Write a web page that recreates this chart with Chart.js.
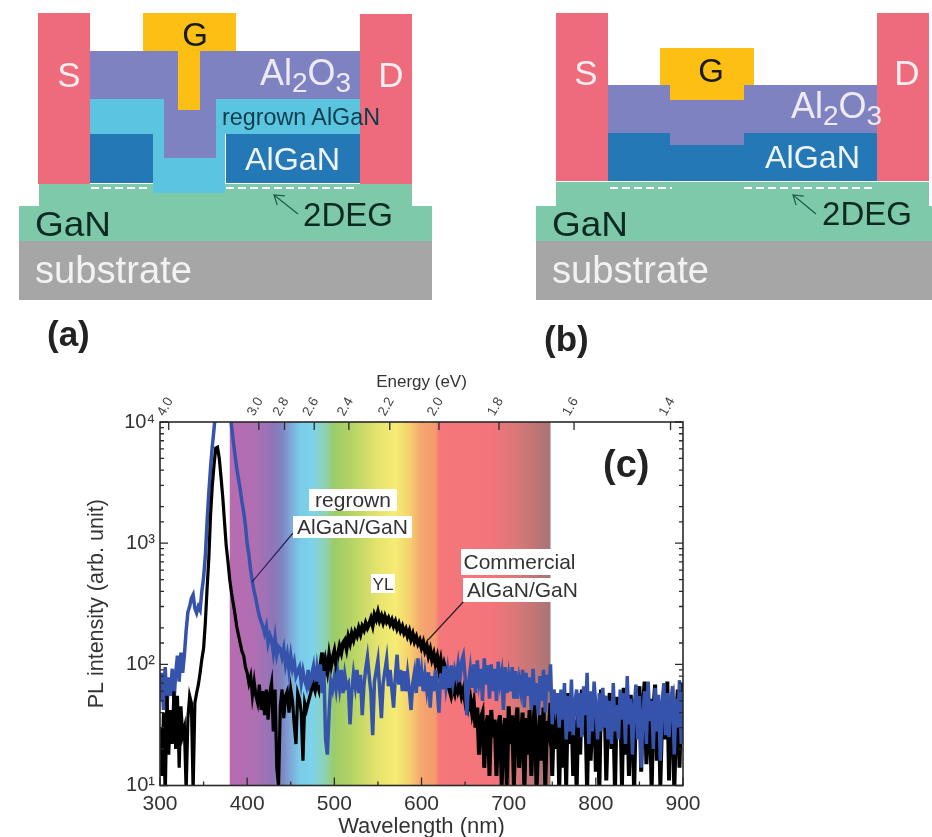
<!DOCTYPE html>
<html>
<head>
<meta charset="utf-8">
<title>PL spectra</title>
<script src="https://cdn.jsdelivr.net/npm/chart.js@4/dist/chart.umd.min.js"></script>
<style>
    html, body { margin: 0; padding: 0; background: #fff; }
    #page { position: relative; width: 932px; height: 837px; overflow: hidden; filter: blur(0.7px); }
    #chart { position: absolute; left: 0; top: 0; }
    #overlay { position: absolute; left: 0; top: 0; font-family: "Liberation Sans", Arial, sans-serif; }
</style>
</head>
<body>
<div id="page">
<canvas id="chart" width="932" height="837"></canvas>
<svg id="overlay" width="932" height="837" viewBox="0 0 932 837">
    <defs>
        <marker id="arrowHead" markerUnits="userSpaceOnUse" markerWidth="14" markerHeight="14" refX="10" refY="6" orient="auto">
            <path d="M1 0 L10 6 L1 12" fill="none" stroke="#1d5a48" stroke-width="1.2"/>
        </marker>
    </defs>

    <!-- (a) 再生长结构 -->
    <rect x="19" y="241" width="413" height="59" fill="#a6a6a6"/>
    <rect x="19" y="206" width="413" height="35" fill="#7fc9ab"/>
    <rect x="39" y="184" width="373" height="22" fill="#7fc9ab"/>
    <rect x="90" y="99" width="271" height="35" fill="#5bc5df"/>
    <rect x="153" y="134" width="72" height="59" fill="#5bc5df"/>
    <rect x="90" y="134" width="63" height="49" fill="#2478b6"/>
    <rect x="226" y="134" width="135" height="49" fill="#2478b6"/>
    <rect x="90" y="51" width="271" height="48" fill="#7f82c0"/>
    <rect x="164" y="99" width="52" height="59" fill="#7f82c0"/>
    <rect x="143" y="13" width="93" height="38" fill="#fdbf14"/>
    <rect x="178" y="51" width="22" height="59" fill="#fdbf14"/>
    <rect x="38" y="13" width="52" height="171" fill="#ee6b7b"/>
    <rect x="360" y="14" width="52" height="170" fill="#ee6b7b"/>
    <line x1="226" y1="183.5" x2="360" y2="183.5" stroke="#fff" stroke-width="1"/>
    <line x1="91" y1="188" x2="150" y2="188" stroke="#fff" stroke-width="2.2" stroke-dasharray="8 4"/>
    <line x1="226" y1="188" x2="358" y2="188" stroke="#fff" stroke-width="2.2" stroke-dasharray="8 4"/>
    <line x1="298" y1="214" x2="274" y2="195" stroke="#1d5a48" stroke-width="1.2" marker-end="url(#arrowHead)"/>
    <text x="69" y="87" font-size="35" fill="#f6eef2" text-anchor="middle">S</text>
    <text x="391" y="87" font-size="35" fill="#f6eef2" text-anchor="middle">D</text>
    <text x="195" y="46" font-size="33" fill="#1a1a14" text-anchor="middle">G</text>
    <text x="260" y="85" font-size="36" fill="#eeeaf4">Al<tspan font-size="28" dy="7">2</tspan><tspan dy="-7">O</tspan><tspan font-size="28" dy="7">3</tspan></text>
    <text x="222" y="125" font-size="23" fill="#0a3c50" textLength="158" lengthAdjust="spacingAndGlyphs">regrown AlGaN</text>
    <text x="245" y="170" font-size="32" fill="#eef4f8" textLength="95" lengthAdjust="spacingAndGlyphs">AlGaN</text>
    <text x="303" y="226" font-size="33" fill="#0c2a22" textLength="90" lengthAdjust="spacingAndGlyphs">2DEG</text>
    <text x="35" y="236" font-size="35" fill="#0c2a22" textLength="76" lengthAdjust="spacingAndGlyphs">GaN</text>
    <text x="35" y="283" font-size="38" fill="#f2f2f2" textLength="157" lengthAdjust="spacingAndGlyphs">substrate</text>
    <text x="47" y="346" font-size="35" font-weight="bold" fill="#222">(a)</text>

    <!-- (b) 刻蚀结构 -->
    <rect x="536" y="241" width="396" height="59" fill="#a6a6a6"/>
    <rect x="536" y="206" width="396" height="35" fill="#7fc9ab"/>
    <rect x="556" y="182" width="373" height="24" fill="#7fc9ab"/>
    <rect x="608" y="85" width="270" height="48" fill="#7f82c0"/>
    <rect x="608" y="133" width="270" height="48" fill="#2478b6"/>
    <rect x="670" y="133" width="74" height="12" fill="#7f82c0"/>
    <rect x="660" y="48" width="94" height="37" fill="#fdbf14"/>
    <rect x="670" y="85" width="74" height="15" fill="#fdbf14"/>
    <rect x="556" y="13" width="52" height="168" fill="#ee6b7b"/>
    <rect x="877" y="13" width="52" height="168" fill="#ee6b7b"/>
    <line x1="556" y1="181.5" x2="929" y2="181.5" stroke="#fff" stroke-width="1"/>
    <line x1="610" y1="188" x2="672" y2="188" stroke="#fff" stroke-width="2.2" stroke-dasharray="8 4"/>
    <line x1="744" y1="188" x2="876" y2="188" stroke="#fff" stroke-width="2.2" stroke-dasharray="8 4"/>
    <line x1="816" y1="214" x2="793" y2="195" stroke="#1d5a48" stroke-width="1.2" marker-end="url(#arrowHead)"/>
    <text x="586" y="85" font-size="35" fill="#f6eef2" text-anchor="middle">S</text>
    <text x="907" y="85" font-size="35" fill="#f6eef2" text-anchor="middle">D</text>
    <text x="711" y="82" font-size="33" fill="#1a1a14" text-anchor="middle">G</text>
    <text x="791" y="118" font-size="36" fill="#eeeaf4">Al<tspan font-size="28" dy="7">2</tspan><tspan dy="-7">O</tspan><tspan font-size="28" dy="7">3</tspan></text>
    <text x="765" y="168" font-size="32" fill="#eef4f8" textLength="95" lengthAdjust="spacingAndGlyphs">AlGaN</text>
    <text x="822" y="225" font-size="33" fill="#0c2a22" textLength="90" lengthAdjust="spacingAndGlyphs">2DEG</text>
    <text x="552" y="236" font-size="35" fill="#0c2a22" textLength="76" lengthAdjust="spacingAndGlyphs">GaN</text>
    <text x="552" y="283" font-size="38" fill="#f2f2f2" textLength="157" lengthAdjust="spacingAndGlyphs">substrate</text>
    <text x="544" y="351" font-size="35" font-weight="bold" fill="#222">(b)</text>

    <!-- (c) 图内标注 -->
    <line x1="252" y1="582" x2="293" y2="533" stroke="#2a2060" stroke-width="1.2"/>
    <line x1="428" y1="640" x2="465" y2="600" stroke="#222" stroke-width="1.2"/>
    <rect x="309" y="489" width="88" height="22" fill="#fff"/>
    <text x="353" y="507" font-size="21" fill="#333" text-anchor="middle">regrown</text>
    <rect x="293" y="516" width="119" height="22" fill="#fff"/>
    <text x="352.5" y="534" font-size="21" fill="#333" text-anchor="middle">AlGaN/GaN</text>
    <rect x="371" y="574" width="24" height="19" fill="#fff"/>
    <text x="383" y="590" font-size="17" fill="#333" text-anchor="middle">YL</text>
    <rect x="461" y="549" width="117" height="26" fill="#fff"/>
    <text x="519.5" y="569" font-size="21" fill="#333" text-anchor="middle">Commercial</text>
    <rect x="463" y="578" width="119" height="24" fill="#fff"/>
    <text x="522.5" y="597" font-size="21" fill="#333" text-anchor="middle">AlGaN/GaN</text>
    <text x="603" y="477" font-size="38" font-weight="bold" fill="#222">(c)</text>
</svg>
</div>

<script>
// 波长 (nm)
const wavelengths = [
    300,302,304,306,308,310,312,314,316,318,
    320,322,324,326,328,330,332,334,336,338,
    340,342,344,346,348,350,352,354,356,358,
    360,362,364,366,368,370,372,374,376,378,
    380,382,384,386,388,390,392,394,396,398,
    400,402,404,406,408,410,412,414,416,418,
    420,422,424,426,428,430,432,434,436,438,
    440,442,444,446,448,450,452,454,456,458,
    460,462,464,466,468,470,472,474,476,478,
    480,482,484,486,488,490,492,494,496,498,
    500,502,504,506,508,510,512,514,516,518,
    520,522,524,526,528,530,532,534,536,538,
    540,542,544,546,548,550,552,554,556,558,
    560,562,564,566,568,570,572,574,576,578,
    580,582,584,586,588,590,592,594,596,598,
    600,602,604,606,608,610,612,614,616,618,
    620,622,624,626,628,630,632,634,636,638,
    640,642,644,646,648,650,652,654,656,658,
    660,662,664,666,668,670,672,674,676,678,
    680,682,684,686,688,690,692,694,696,698,
    700,702,704,706,708,710,712,714,716,718,
    720,722,724,726,728,730,732,734,736,738,
    740,742,744,746,748,750,752,754,756,758,
    760,762,764,766,768,770,772,774,776,778,
    780,782,784,786,788,790,792,794,796,798,
    800,802,804,806,808,810,812,814,816,818,
    820,822,824,826,828,830,832,834,836,838,
    840,842,844,846,848,850,852,854,856,858,
    860,862,864,866,868,870,872,874,876,878,
    880,882,884,886,888,890,892,894,896,898,
    900
];

// 再生长 AlGaN/GaN 的 PL 强度
const regrownValues = [
    50,85,42,95,45,78,55,92,48,85,
    118,72,125,85,120,190,270,300,350,375,
    290,265,300,280,400,520,780,1500,2600,4200,
    6300,8800,13000,20000,30000,34000,36000,34000,28000,20000,
    12500,9400,7000,5400,4200,3400,2800,2200,1800,1400,
    1000,800,600,480,400,345,290,250,225,205,
    180,205,150,175,160,125,165,120,140,135,
    115,135,100,120,90,118,92,105,80,88,
    95,70,88,74,66,90,60,82,96,66,
    92,68,100,58,88,24,18,40,72,62,
    78,62,85,64,90,58,82,66,70,32,
    60,84,66,90,58,82,38,68,92,115,
    80,58,26,72,88,108,62,36,70,88,
    110,66,90,62,44,80,120,68,90,60,
    88,60,84,62,42,70,86,58,112,66,
    88,60,82,62,86,44,80,60,90,64,
    40,84,62,96,66,88,64,98,70,90,
    78,100,72,105,118,80,38,70,92,64,
    100,58,108,72,92,50,112,68,98,52,
    100,60,92,50,105,70,85,42,95,58,
    80,60,95,52,88,52,75,60,90,44,
    85,55,78,42,92,46,70,38,80,50,
    90,40,82,60,100,32,62,45,58,30,
    62,35,70,24,55,28,75,26,48,62,
    30,58,25,66,38,85,22,60,28,72,
    45,24,58,28,64,30,55,24,50,22,
    70,28,46,24,62,35,58,22,80,32,
    52,18,44,68,24,55,14,38,60,22,
    72,34,50,20,64,28,56,16,46,70,
    26,58,25,48,66,18,52,30,74,22,
    60
];

// 商用 AlGaN/GaN 的 PL 强度
const commercialValues = [
    30,12,40,8,55,18,42,22,60,20,
    55,14,45,26,30,9,36,55,48,9,
    48,58,68,85,110,135,220,420,750,1700,
    3000,4400,6100,6200,5000,3500,2400,1500,950,700,
    500,390,320,260,205,175,150,128,118,95,
    85,70,80,55,72,55,48,68,42,60,
    38,62,35,58,70,28,62,14,10,45,
    62,36,55,60,40,62,50,32,22,58,
    52,40,16,48,42,48,55,62,68,60,
    72,64,95,125,80,105,88,118,95,112,
    128,100,118,140,125,150,158,135,168,150,
    178,160,185,172,198,178,205,192,218,200,
    215,238,210,255,235,268,230,250,222,248,
    225,240,215,232,208,225,198,215,190,205,
    182,195,172,188,162,178,155,168,148,158,
    138,152,130,142,118,132,110,122,102,115,
    92,108,85,100,88,70,62,55,65,58,
    72,60,66,55,62,50,58,45,52,40,
    48,30,44,18,36,40,14,30,38,12,
    42,25,35,12,30,38,10,28,36,9,
    45,22,38,10,32,44,14,26,40,9,
    36,18,42,12,30,46,9,24,38,16,
    44,10,34,28,48,12,40,20,52,9,
    50,14,40,10,58,22,46,12,35,9,
    52,18,62,26,44,9,52,16,38,56,
    13,48,9,62,30,55,11,36,58,20,
    40,9,54,25,50,10,64,18,44,12,
    56,28,9,52,34,66,13,46,72,15,
    30,52,9,42,68,16,50,10,36,60,
    24,72,11,48,54,9,34,62,14,56,
    70
];

// 左半段压在蓝线上，右半段在蓝线下
const overlapIndex = 90;

// 能量刻度 (eV)
const energyTicks = [4.0, 3.0, 2.8, 2.6, 2.4, 2.2, 2.0, 1.8, 1.6, 1.4];

// 可见光光谱背景
const spectrumStops = [380, 410, 430, 440, 450, 460, 475, 490, 500, 520, 550, 570, 585, 600, 616, 620, 680, 710, 748];
const spectrumColors = ['#b96bb0', '#ae6fb2', '#8e75b8', '#7f84c0', '#7fa8d8', '#7acbe8', '#7cd4ea', '#8fd2b0', '#9ccb68',
    '#b4d465', '#e6e36e', '#f5ec74', '#f6d36e', '#f4a66e', '#f49a6f', '#f5777a', '#f3747a', '#d87878', '#a97474'];

function toPoints(xs, ys) {
    return ys.map((y, i) => ({ x: xs[i], y: y }));
}

// 光谱色带
const spectrumPlugin = {
    id: 'spectrum',
    beforeDatasetsDraw(chart) {
        const { ctx, chartArea, scales } = chart;
        const first = spectrumStops[0];
        const last = spectrumStops[spectrumStops.length - 1];
        const x0 = scales.x.getPixelForValue(first);
        const x1 = scales.x.getPixelForValue(last);
        const grad = ctx.createLinearGradient(x0, 0, x1, 0);
        spectrumStops.forEach((w, i) => grad.addColorStop((w - first) / (last - first), spectrumColors[i]));
        ctx.save();
        ctx.fillStyle = grad;
        ctx.fillRect(x0, chartArea.top, x1 - x0, chartArea.bottom - chartArea.top);
        ctx.restore();
    }
};

// 朝内的刻度线和边框
const frameTicksPlugin = {
    id: 'frameTicks',
    afterDraw(chart) {
        const { ctx, chartArea, scales } = chart;
        const { left, right, top, bottom } = chartArea;
        ctx.save();
        ctx.strokeStyle = '#2a2a2a';
        ctx.lineWidth = 1.3;
        ctx.beginPath();
        scales.x.ticks.forEach(t => {
            const px = scales.x.getPixelForValue(t.value);
            const len = t.value % 100 === 0 ? 8 : 4;
            ctx.moveTo(px, bottom);
            ctx.lineTo(px, bottom - len);
        });
        scales.x2.ticks.forEach(t => {
            const px = scales.x2.getPixelForValue(t.value);
            ctx.moveTo(px, top);
            ctx.lineTo(px, top + 8);
        });
        scales.y.ticks.forEach(t => {
            const py = scales.y.getPixelForValue(t.value);
            const isDecade = Number.isInteger(Math.log10(t.value));
            const len = isDecade ? 8 : 4;
            ctx.moveTo(left, py);
            ctx.lineTo(left + len, py);
            ctx.moveTo(right, py);
            ctx.lineTo(right - len, py);
        });
        ctx.stroke();
        ctx.lineWidth = 1.6;
        ctx.strokeRect(left, top, right - left, bottom - top);
        ctx.restore();
    }
};

const tickColor = '#333';
const fontFamily = '"Liberation Sans", Arial, sans-serif';

new Chart(document.getElementById('chart'), {
    type: 'scatter',
    data: {
        datasets: [
            {
                label: 'Commercial AlGaN/GaN',
                data: toPoints(wavelengths.slice(0, overlapIndex + 1), commercialValues.slice(0, overlapIndex + 1)),
                showLine: true, pointRadius: 0, borderColor: '#000', borderWidth: 3.2, order: 1
            },
            {
                label: 'regrown AlGaN/GaN',
                data: toPoints(wavelengths, regrownValues),
                showLine: true, pointRadius: 0, borderColor: '#3553ab', borderWidth: 3.5, order: 2
            },
            {
                label: 'Commercial AlGaN/GaN (long wavelength)',
                data: toPoints(wavelengths.slice(overlapIndex), commercialValues.slice(overlapIndex)),
                showLine: true, pointRadius: 0, borderColor: '#000', borderWidth: 4, order: 3
            }
        ]
    },
    options: {
        responsive: false,
        animation: false,
        layout: { padding: { left: 84, right: 249, top: 372, bottom: 0 } },
        plugins: { legend: { display: false }, tooltip: { enabled: false } },
        scales: {
            x: {
                type: 'linear',
                position: 'bottom',
                min: 300,
                max: 900,
                afterFit(scale) { scale.height = 51.5; },
                grid: { display: false, drawTicks: false },
                border: { display: false },
                ticks: {
                    stepSize: 50,
                    autoSkip: false,
                    maxRotation: 0,
                    padding: 6,
                    color: tickColor,
                    font: { family: fontFamily, size: 21 },
                    callback: v => (v % 100 === 0 ? String(v) : '')
                },
                title: {
                    display: true,
                    text: 'Wavelength (nm)',
                    color: tickColor,
                    padding: { top: 0, bottom: -3 },
                    font: { family: fontFamily, size: 22 }
                }
            },
            x2: {
                type: 'linear',
                position: 'top',
                min: 300,
                max: 900,
                afterFit(scale) { scale.height = 50; },
                afterBuildTicks(scale) {
                    scale.ticks = energyTicks.map(e => ({ value: 1240 / e }));
                },
                grid: { display: false, drawTicks: false },
                border: { display: false },
                ticks: {
                    autoSkip: false,
                    minRotation: 60,
                    maxRotation: 60,
                    padding: 3,
                    labelOffset: 6,
                    color: '#444',
                    font: { family: fontFamily, size: 13.5 },
                    callback: v => (1240 / v).toFixed(1)
                },
                title: {
                    display: true,
                    text: 'Energy (eV)',
                    color: tickColor,
                    padding: { top: 0, bottom: 0 },
                    font: { family: fontFamily, size: 17 }
                }
            },
            y: {
                type: 'logarithmic',
                position: 'left',
                min: 10,
                max: 10000,
                afterFit(scale) { scale.width = 76; },
                grid: { display: false, drawTicks: false },
                border: { display: false },
                ticks: {
                    autoSkip: false,
                    padding: 5,
                    color: tickColor,
                    font: { family: fontFamily, size: 20 },
                    callback: v => ({ 10: '10¹', 100: '10²', 1000: '10³', 10000: '10⁴' }[v] || '')
                },
                title: {
                    display: true,
                    text: 'PL intensity (arb. unit)',
                    color: tickColor,
                    padding: { top: 0, bottom: 0 },
                    font: { family: fontFamily, size: 21.5 }
                }
            }
        }
    },
    plugins: [spectrumPlugin, frameTicksPlugin]
});
</script>
</body>
</html>
